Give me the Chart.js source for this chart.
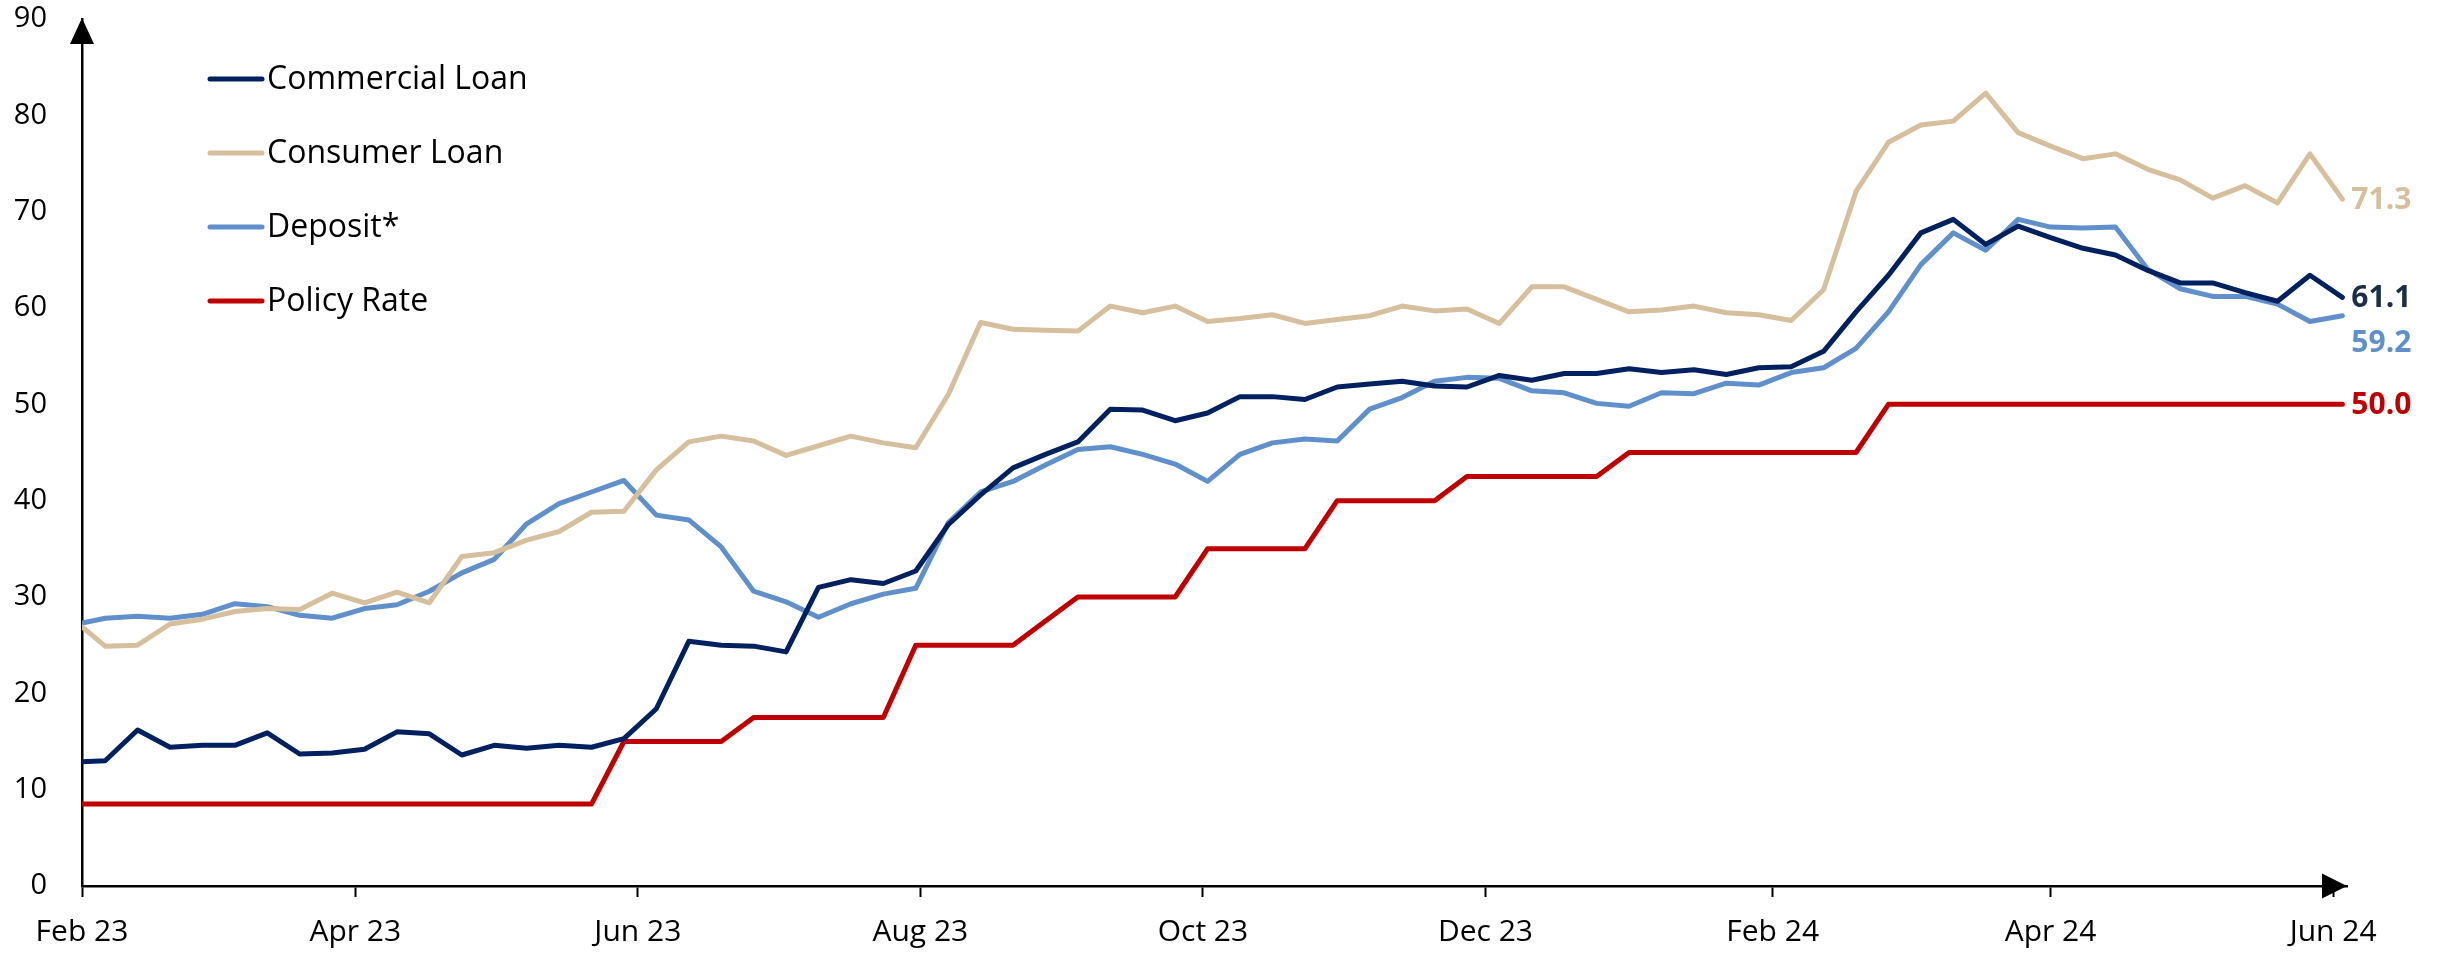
<!DOCTYPE html>
<html>
<head>
<meta charset="utf-8">
<script src="https://cdn.jsdelivr.net/npm/chart.js@4.4.1/dist/chart.umd.min.js"></script>
<style>
  html, body { margin: 0; padding: 0; background: #fff; }
  canvas { display: block; }
</style>
</head>
<body>
<canvas id="rateChart" width="2445" height="954"></canvas>
<script>
// weekly observations (first point sits on the axis origin)
const weekDates = [
  '2023-02-01', '2023-02-06', '2023-02-13', '2023-02-20', '2023-02-27',
  '2023-03-06', '2023-03-13', '2023-03-20', '2023-03-27',
  '2023-04-03', '2023-04-10', '2023-04-17', '2023-04-24',
  '2023-05-01', '2023-05-08', '2023-05-15', '2023-05-22', '2023-05-29',
  '2023-06-05', '2023-06-12', '2023-06-19', '2023-06-26',
  '2023-07-03', '2023-07-10', '2023-07-17', '2023-07-24', '2023-07-31',
  '2023-08-07', '2023-08-14', '2023-08-21', '2023-08-28',
  '2023-09-04', '2023-09-11', '2023-09-18', '2023-09-25',
  '2023-10-02', '2023-10-09', '2023-10-16', '2023-10-23', '2023-10-30',
  '2023-11-06', '2023-11-13', '2023-11-20', '2023-11-27',
  '2023-12-04', '2023-12-11', '2023-12-18', '2023-12-25',
  '2024-01-01', '2024-01-08', '2024-01-15', '2024-01-22', '2024-01-29',
  '2024-02-05', '2024-02-12', '2024-02-19', '2024-02-26',
  '2024-03-04', '2024-03-11', '2024-03-18', '2024-03-25',
  '2024-04-01', '2024-04-08', '2024-04-15', '2024-04-22', '2024-04-29',
  '2024-05-06', '2024-05-13', '2024-05-20', '2024-05-27',
  '2024-06-03'
];

const commercialLoan = [
  12.9, 13.0, 16.2, 14.4, 14.6, 14.6, 15.9, 13.7, 13.8, 14.2,
  16.0, 15.8, 13.6, 14.6, 14.3, 14.6, 14.4, 15.3, 18.4, 25.4,
  25.0, 24.9, 24.3, 31.0, 31.8, 31.4, 32.7, 37.5, 40.6, 43.4,
  44.8, 46.1, 49.5, 49.4, 48.3, 49.1, 50.8, 50.8, 50.5, 51.8,
  52.1, 52.4, 51.9, 51.8, 53.0, 52.5, 53.2, 53.2, 53.7, 53.3,
  53.6, 53.1, 53.8, 53.9, 55.5, 59.6, 63.4, 67.8, 69.2, 66.6,
  68.5, 67.3, 66.2, 65.5, 63.9, 62.6, 62.6, 61.6, 60.7, 63.4,
  61.1
];

const consumerLoan = [
  26.9, 24.9, 25.0, 27.2, 27.7, 28.5, 28.8, 28.7, 30.4, 29.4,
  30.5, 29.4, 34.2, 34.6, 35.9, 36.8, 38.8, 38.9, 43.2, 46.1,
  46.7, 46.2, 44.7, 45.7, 46.7, 46.0, 45.5, 51.0, 58.5, 57.8,
  57.7, 57.6, 60.2, 59.5, 60.2, 58.6, 58.9, 59.3, 58.4, 58.8,
  59.2, 60.2, 59.7, 59.9, 58.4, 62.2, 62.2, 60.9, 59.6, 59.8,
  60.2, 59.5, 59.3, 58.7, 61.9, 72.1, 77.2, 79.0, 79.4, 82.3,
  78.2, 76.8, 75.5, 76.0, 74.4, 73.3, 71.4, 72.7, 70.9, 76.0,
  71.3
];

const deposit = [
  27.3, 27.8, 28.0, 27.8, 28.2, 29.3, 29.0, 28.1, 27.8, 28.8,
  29.2, 30.6, 32.5, 33.9, 37.6, 39.7, 40.9, 42.1, 38.5, 38.0,
  35.2, 30.6, 29.5, 27.9, 29.3, 30.3, 30.9, 37.7, 40.9, 42.0,
  43.7, 45.3, 45.6, 44.8, 43.8, 42.0, 44.8, 46.0, 46.4, 46.2,
  49.5, 50.7, 52.4, 52.8, 52.7, 51.4, 51.2, 50.1, 49.8, 51.2,
  51.1, 52.2, 52.0, 53.3, 53.8, 55.8, 59.6, 64.5, 67.8, 66.0,
  69.2, 68.4, 68.3, 68.4, 64.0, 62.0, 61.2, 61.2, 60.4, 58.6,
  59.2
];

const policyRate = [
  8.5, 8.5, 8.5, 8.5, 8.5, 8.5, 8.5, 8.5, 8.5, 8.5,
  8.5, 8.5, 8.5, 8.5, 8.5, 8.5, 8.5, 15, 15, 15,
  15, 17.5, 17.5, 17.5, 17.5, 17.5, 25, 25, 25, 25,
  27.5, 30, 30, 30, 30, 35, 35, 35, 35, 40,
  40, 40, 40, 42.5, 42.5, 42.5, 42.5, 42.5, 45, 45,
  45, 45, 45, 45, 45, 45, 50, 50, 50, 50,
  50, 50, 50, 50, 50, 50, 50, 50, 50, 50,
  50
];

const tickLabels = ['Feb 23', 'Apr 23', 'Jun 23', 'Aug 23', 'Oct 23', 'Dec 23', 'Feb 24', 'Apr 24', 'Jun 24'];
const tickDates = ['2023-02-01', '2023-04-01', '2023-06-01', '2023-08-01', '2023-10-01', '2023-12-01', '2024-02-01', '2024-04-01', '2024-06-01'];
const axisEndDate = '2024-06-04';

const seriesNames = ['Commercial Loan', 'Consumer Loan', 'Deposit*', 'Policy Rate'];
const seriesColors = ['#002060', '#D5BF9C', '#6090CB', '#C00000'];
const endLabelColors = ['#1C2E47', '#D5BF9C', '#6090CB', '#C00000'];

const FONT = '"Open Sans", "Noto Sans", sans-serif';
const DAY = 24 * 3600 * 1000;
const origin = Date.parse(tickDates[0]);
const toDay = s => Math.round((Date.parse(s) - origin) / DAY);

const xDays = weekDates.map(toDay);
const tickDays = tickDates.map(toDay);

function pointsOf(values) {
  return values.map((v, i) => ({ x: xDays[i], y: v }));
}

const allSeries = [commercialLoan, consumerLoan, deposit, policyRate];

// arrowheads on both axes
const axisArrows = {
  id: 'axisArrows',
  afterDraw(chart) {
    const { ctx, chartArea } = chart;
    ctx.save();
    ctx.fillStyle = '#000';
    ctx.beginPath();
    ctx.moveTo(chartArea.left, chartArea.top - 1);
    ctx.lineTo(chartArea.left - 12, chartArea.top + 25);
    ctx.lineTo(chartArea.left + 12, chartArea.top + 25);
    ctx.closePath();
    ctx.fill();
    ctx.beginPath();
    ctx.moveTo(chartArea.right, chartArea.bottom);
    ctx.lineTo(chartArea.right - 25, chartArea.bottom - 12.5);
    ctx.lineTo(chartArea.right - 25, chartArea.bottom + 12.5);
    ctx.closePath();
    ctx.fill();
    ctx.restore();
  }
};

// stacked legend in the upper left
const sideLegend = {
  id: 'sideLegend',
  afterDraw(chart) {
    const ctx = chart.ctx;
    ctx.save();
    ctx.font = '32px ' + FONT;
    ctx.textBaseline = 'middle';
    ctx.textAlign = 'left';
    chart.data.datasets.forEach((ds, i) => {
      const y = 79 + i * 74;
      ctx.strokeStyle = ds.borderColor;
      ctx.lineWidth = 5;
      ctx.lineCap = 'round';
      ctx.beginPath();
      ctx.moveTo(210, y);
      ctx.lineTo(262, y);
      ctx.stroke();
      ctx.fillStyle = '#000';
      ctx.fillText(ds.label, 267, y + 1);
    });
    ctx.restore();
  }
};

// last value printed at the end of each line
const endLabels = {
  id: 'endLabels',
  afterDatasetsDraw(chart) {
    const ctx = chart.ctx;
    ctx.save();
    ctx.font = 'bold 30px ' + FONT;
    ctx.textBaseline = 'middle';
    ctx.textAlign = 'left';
    chart.data.datasets.forEach((ds, i) => {
      const meta = chart.getDatasetMeta(i);
      const last = meta.data[meta.data.length - 1];
      const value = ds.data[ds.data.length - 1].y;
      let y = last.y;
      if (i === 2) y += 27;
      ctx.fillStyle = endLabelColors[i];
      ctx.fillText(value.toFixed(1), last.x + 9, y + 1);
    });
    ctx.restore();
  }
};

const ctx = document.getElementById('rateChart').getContext('2d');
new Chart(ctx, {
  type: 'line',
  data: {
    datasets: allSeries.map((vals, i) => ({
      label: seriesNames[i],
      data: pointsOf(vals),
      borderColor: seriesColors[i],
      backgroundColor: seriesColors[i],
      borderWidth: 5,
      borderCapStyle: 'round',
      borderJoinStyle: 'round',
      pointRadius: 0,
      tension: 0,
      fill: false
    }))
  },
  options: {
    responsive: false,
    devicePixelRatio: 1,
    animation: false,
    layout: { padding: { top: 19, right: 98, left: 0, bottom: 0 } },
    plugins: {
      legend: { display: false },
      tooltip: { enabled: false }
    },
    scales: {
      x: {
        type: 'linear',
        min: 0,
        max: toDay(axisEndDate),
        afterFit(scale) {
          scale.height = 68;
          scale.paddingLeft = 0;
          scale.paddingRight = 0;
        },
        afterBuildTicks(scale) { scale.ticks = tickDays.map(v => ({ value: v })); },
        grid: {
          display: true,
          drawOnChartArea: false,
          drawTicks: true,
          tickLength: 11,
          tickWidth: 2,
          tickColor: '#000'
        },
        border: { display: true, color: '#000', width: 2.5 },
        ticks: {
          autoSkip: false,
          maxRotation: 0,
          padding: 17,
          color: '#000',
          font: { family: FONT, size: 30 },
          callback: (value) => {
            const k = tickDays.indexOf(value);
            return k >= 0 ? tickLabels[k] : '';
          }
        }
      },
      y: {
        min: 0,
        max: 90,
        afterFit(scale) {
          scale.width = 82;
          scale.paddingTop = 0;
          scale.paddingBottom = 0;
        },
        grid: { display: false, drawTicks: false },
        border: { display: true, color: '#000', width: 2.5 },
        ticks: {
          stepSize: 10,
          padding: 35,
          color: '#000',
          font: { family: FONT, size: 29 }
        }
      }
    }
  },
  plugins: [axisArrows, sideLegend, endLabels]
});
</script>
</body>
</html>
